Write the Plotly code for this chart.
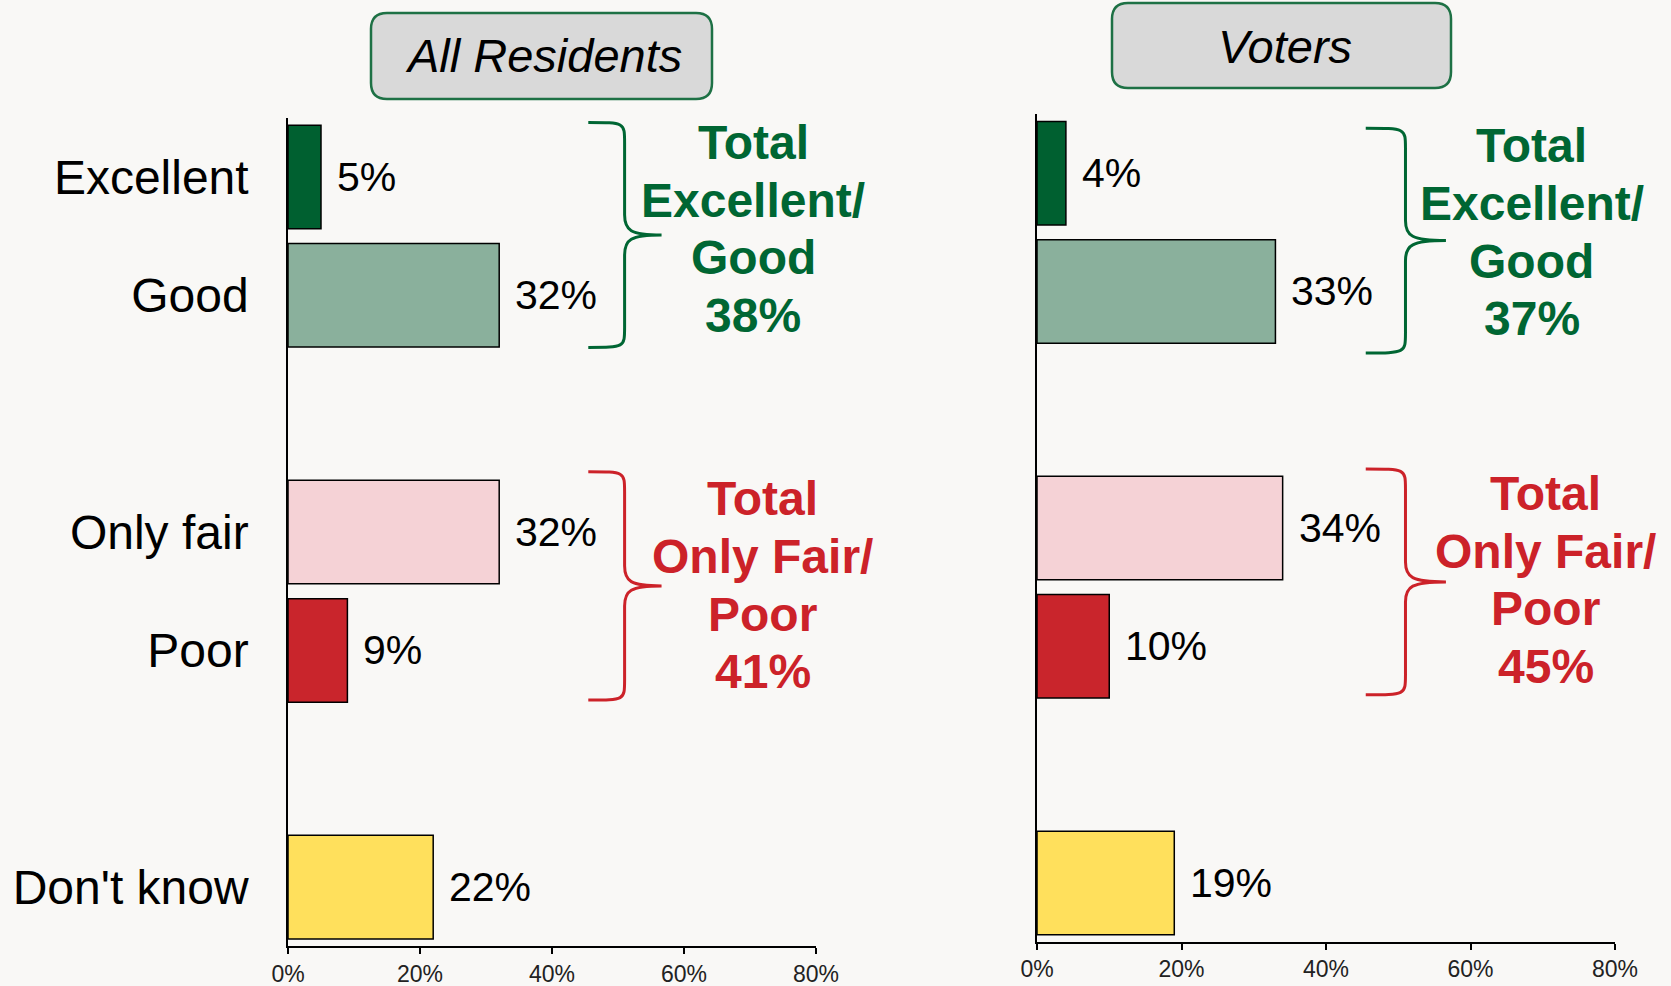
import plotly.graph_objects as go

# ---------------- data ----------------
categories = ["Excellent", "Good", "Only fair", "Poor", "Don't know"]
residents = [5, 32, 32, 9, 22]
voters = [4, 33, 34, 10, 19]
resident_totals = [38, 41]   # Excellent/Good, Only fair/Poor
voter_totals = [37, 45]
panel_titles = ["All Residents", "Voters"]
x_ticks = [0, 20, 40, 60, 80]
x_ticklabels = ["0%", "20%", "40%", "60%", "80%"]
group_labels = [["Total", "Excellent/", "Good"], ["Total", "Only Fair/", "Poor"]]

# ---------------- styles ----------------
bar_colors = ["#006030", "#8AB09C", "#F5D2D6", "#C9252C", "#FFE05C"]
GREEN = "#006633"
RED = "#CC2229"
BG = "#F9F8F6"
FONT = "Liberation Sans, Arial, sans-serif"
W, H = 1671, 986

# category slots with two blank spacer rows
slot_order = ["Excellent", "Good", " ", "Only fair", "Poor", "  ", "Don't know"]

fig = go.Figure()

panels = [
    dict(vals=residents, totals=resident_totals, xa="x", ya="y",
         xdom=[288 / W, 816 / W], ydom=[1 - 946.3 / H, 1 - 117.8 / H],
         show_labels=True,
         brace_y=[(-0.46, 1.44), (2.49, 4.42)],
         text_x=[70.5, 71.9], text_y=[0.44, 3.45]),
    dict(vals=voters, totals=voter_totals, xa="x2", ya="y2",
         xdom=[1037 / W, 1615 / W], ydom=[1 - 942.1 / H, 1 - 114.0 / H],
         show_labels=False,
         brace_y=[(-0.38, 1.52), (2.50, 4.41)],
         text_x=[68.5, 70.4], text_y=[0.50, 3.44]),
]

annotations = []
shapes = []

def brace_path(tip, spine, point, top, bot):
    mid = (top + bot) / 2
    r = 0.17
    return (f"M {tip},{top} C {spine},{top} {spine},{top} {spine},{top + r} "
            f"L {spine},{mid - r} "
            f"C {spine},{mid - 0.04} {spine + (point - spine) * 0.15},{mid} {point},{mid} "
            f"C {spine + (point - spine) * 0.15},{mid} {spine},{mid + 0.04} {spine},{mid + r} "
            f"L {spine},{bot - r} "
            f"C {spine},{bot} {spine},{bot} {tip},{bot}")

for i, p in enumerate(panels):
    fig.add_trace(go.Bar(
        x=p["vals"], y=categories, orientation="h",
        marker=dict(color=bar_colors, line=dict(color="black", width=1.5)),
        xaxis=p["xa"], yaxis=p["ya"], showlegend=False, hoverinfo="skip",
    ))
    # value labels
    for c, v in zip(categories, p["vals"]):
        annotations.append(dict(
            x=v, y=c, xref=p["xa"], yref=p["ya"], text=f"{v}%",
            showarrow=False, xanchor="left", yanchor="middle", xshift=14,
            font=dict(family=FONT, size=41, color="black")))
    # group totals with braces
    for g, (lines, col) in enumerate(zip(group_labels, [GREEN, RED])):
        all_lines = lines + [f"{p['totals'][g]}%"]
        n = len(all_lines)
        for k, t in enumerate(all_lines):
            annotations.append(dict(
                x=p["text_x"][g], y=p["text_y"][g], xref=p["xa"], yref=p["ya"],
                text=f"<b>{t}</b>", showarrow=False, xanchor="center", yanchor="middle",
                yshift=((n - 1) / 2 - k) * 57.6,
                font=dict(family=FONT, size=48, color=col)))
        top, bot = p["brace_y"][g]
        shapes.append(dict(type="path", xref=p["xa"], yref=p["ya"],
                           path=brace_path(45.5, 51.0, 56.6, top, bot),
                           line=dict(color=col, width=3)))

# panel title boxes (rounded rectangles in paper coordinates)
boxes = [(371, 712, 13, 99), (1112, 1451, 3, 88)]
title_centers = [(543, 56), (1285, 47)]
for (x0, x1, y0, y1), title, (cx, cy) in zip(boxes, panel_titles, title_centers):
    rx, ry = 16 / W, 16 / H
    X0, X1 = x0 / W, x1 / W
    Yt, Yb = 1 - y0 / H, 1 - y1 / H
    path = (f"M {X0 + rx},{Yt} L {X1 - rx},{Yt} Q {X1},{Yt} {X1},{Yt - ry} "
            f"L {X1},{Yb + ry} Q {X1},{Yb} {X1 - rx},{Yb} "
            f"L {X0 + rx},{Yb} Q {X0},{Yb} {X0},{Yb + ry} "
            f"L {X0},{Yt - ry} Q {X0},{Yt} {X0 + rx},{Yt} Z")
    shapes.append(dict(type="path", xref="paper", yref="paper", path=path,
                       fillcolor="#D9D9D9", line=dict(color="#1E7145", width=2.5),
                       layer="below"))
    annotations.append(dict(x=cx / W, y=1 - cy / H, xref="paper", yref="paper",
                            text=f"<i>{title}</i>", showarrow=False,
                            xanchor="center", yanchor="middle",
                            font=dict(family=FONT, size=47, color="black")))

layout = dict(
    width=W, height=H, margin=dict(l=0, r=0, t=0, b=0, autoexpand=False),
    paper_bgcolor=BG, plot_bgcolor=BG, showlegend=False,
    bargap=0.125, annotations=annotations, shapes=shapes,
    font=dict(family=FONT, color="black"),
)
for i, p in enumerate(panels):
    sx = "" if i == 0 else "2"
    layout["xaxis" + sx] = dict(
        domain=p["xdom"], anchor="y" + sx, range=[0, 80],
        tickvals=x_ticks, ticktext=x_ticklabels,
        ticks="outside", ticklen=6, tickwidth=1.5, tickcolor="black",
        showline=True, linecolor="black", linewidth=1.5,
        showgrid=False, zeroline=False, automargin=False,
        tickfont=dict(family=FONT, size=23, color="#222222"),
        fixedrange=True,
    )
    layout["yaxis" + sx] = dict(
        domain=p["ydom"], anchor="x" + sx, type="category",
        categoryorder="array", categoryarray=slot_order,
        range=[6.5, -0.5], showline=True, linecolor="black", linewidth=1.5,
        showgrid=False, zeroline=False, ticks="", automargin=False,
        showticklabels=p["show_labels"], ticklabelstandoff=28,
        tickfont=dict(family=FONT, size=48, color="black"),
        fixedrange=True,
    )

fig.update_layout(**layout)
fig.write_html(
    "out.html",
    config={"displayModeBar": False, "responsive": False},
    post_script="document.body.style.margin='0';document.body.style.padding='0';"
                "document.body.style.overflow='hidden';"
                "document.documentElement.style.background='" + BG + "';",
)
